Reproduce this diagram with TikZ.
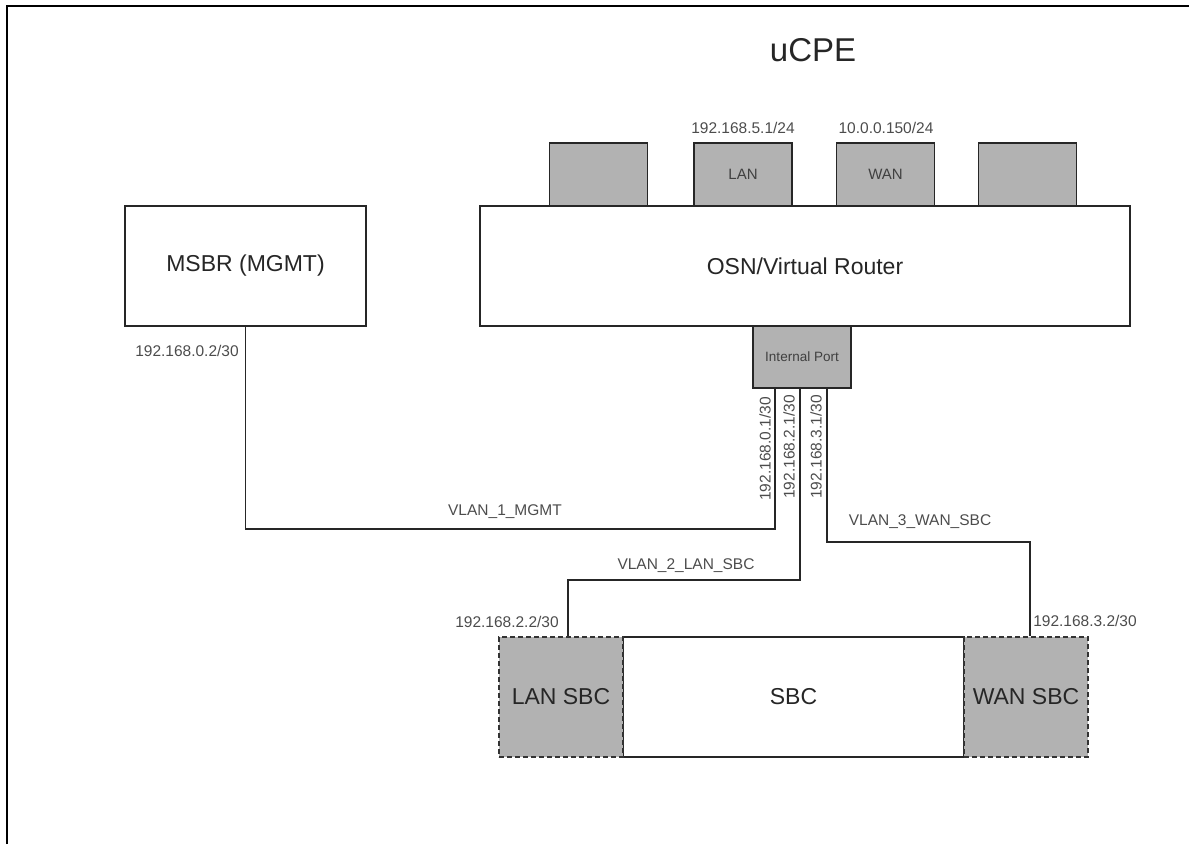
\documentclass[tikz,border=0pt]{standalone}
\usepackage{fontspec}
\setmainfont{Liberation Sans}
\begin{document}
\begin{tikzpicture}[x=1pt,y=-1pt,
  box/.style={draw=black!85,line width=1.8pt,inner sep=0pt,minimum height=120pt,fill=white,
    font=\fontsize{23}{26}\selectfont,text=black!85},
  portbox/.style={draw=black!85,line width=1.8pt,inner sep=0pt,fill=black!30,
    minimum width=98pt,minimum height=63pt,font=\fontsize{15}{17}\selectfont,text=black!75},
  sbcpart/.style={draw=black!80,line width=1.8pt,dashed,dash pattern=on 5pt off 3pt,inner sep=0pt,fill=black!30,
    minimum width=124pt,minimum height=120pt,font=\fontsize{23}{26}\selectfont,text=black!85},
  lbl/.style={inner sep=0pt,font=\fontsize{15.5}{17}\selectfont,text=black!70},
  conn/.style={draw=black!85,line width=1.8pt},
  frame/.style={draw=black,line width=2pt}]
\useasboundingbox (0,0) rectangle (1189,844);
\draw[frame] (7,844) -- (7,6) -- (1189,6);
\node[inner sep=0pt,font=\fontsize{33}{36}\selectfont,text=black!85] (title) at (813,50) {uCPE};
% ports
\node[portbox] (p1) at (598.5,174.5) {};
\node[portbox,text depth=-10pt] (plan) at (743,174.5) {LAN};
\node[portbox,text depth=-10pt] (pwan) at (885.5,174.5) {WAN};
\node[portbox] (p4) at (1027.5,174.5) {};
\node[lbl] (lanip) at (743,128) {192.168.5.1/24};
\node[lbl] (wanip) at (886,128) {10.0.0.150/24};
% main boxes
\node[box,minimum width=650pt] (osn) at (805,266) {OSN/Virtual Router};
\node[box,minimum width=241pt] (msbr) at (245.5,266) {MSBR (MGMT)};
\node[portbox,minimum height=62pt,font=\fontsize{13.5}{15}\selectfont] (ip) at (802,357) {Internal Port};
% SBC
\node[box,minimum width=341pt] (sbc) at (793.5,697) {SBC};
\node[sbcpart] (lansbc) at (561,697) {LAN SBC};
\node[sbcpart] (wansbc) at (1026,697) {WAN SBC};
% port line anchors
\coordinate (ipa) at ([xshift=23pt]ip.south west);
\coordinate (ipb) at ([xshift=48pt]ip.south west);
\coordinate (ipc) at ([xshift=75pt]ip.south west);
% connectors
\draw[conn] (ipa) -- (ipa |- 0,529) -| (msbr.south);
\draw[conn] (ipb) -- (ipb |- 0,580) -| ([xshift=7pt]lansbc.north);
\draw[conn] (ipc) -- (ipc |- 0,542) -| ([xshift=4pt]wansbc.north);
% labels
\node[lbl] (msbrip) at (187,351) {192.168.0.2/30};
\node[lbl,rotate=90] (ipa1) at (765,449) {192.168.0.1/30};
\node[lbl,rotate=90] (ipb1) at (789,447) {192.168.2.1/30};
\node[lbl,rotate=90] (ipc1) at (816,447) {192.168.3.1/30};
\node[lbl] (v1) at (505,512) {VLAN\_1\_MGMT};
\node[lbl] (v2) at (686,566) {VLAN\_2\_LAN\_SBC};
\node[lbl] (v3) at (920,522) {VLAN\_3\_WAN\_SBC};
\node[lbl] (lansbcip) at (507,622) {192.168.2.2/30};
\node[lbl] (wansbcip) at (1085,621) {192.168.3.2/30};
\end{tikzpicture}
\end{document}
